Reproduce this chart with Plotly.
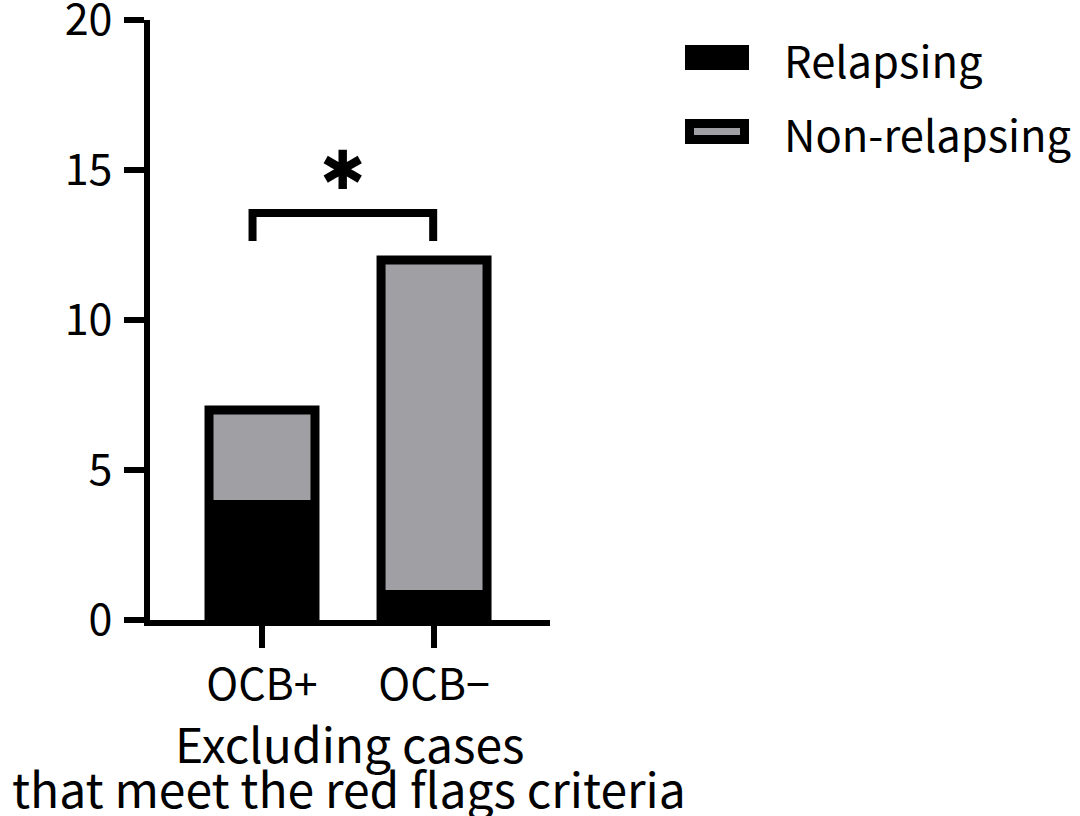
import plotly.graph_objects as go

# ---- data ----
categories = ["OCB+", "OCB−"]
relapsing = [4, 1]
non_relapsing = [3, 11]
series_names = ["Relapsing", "Non-relapsing"]
y_ticks = [0, 5, 10, 15, 20]
x_title_lines = ["Excluding cases", "that meet the red flags criteria"]
sig_label = "✱"

# ---- style ----
FONT = "Noto Sans CJK JP"
GRAY = "#a0a0a4"
W, H = 1080, 816
ML, MR, MT, MB = 150, 530, 20, 196
PW = W - ML - MR
PH = H - MT - MB

totals = [r + n for r, n in zip(relapsing, non_relapsing)]
xpos = list(range(len(categories)))
bar_w = 0.616

fig = go.Figure()
# bottom segment
fig.add_trace(go.Bar(x=xpos, y=relapsing, base=[0] * len(xpos), width=bar_w,
                     marker=dict(color="black", line=dict(width=0)),
                     name=series_names[0], showlegend=False))
# top segment
fig.add_trace(go.Bar(x=xpos, y=non_relapsing, base=relapsing, width=bar_w,
                     marker=dict(color=GRAY, line=dict(width=0)),
                     name=series_names[1], showlegend=False))
# outline of the whole stacked bar
fig.add_trace(go.Bar(x=xpos, y=totals, base=[0] * len(xpos), width=bar_w,
                     marker=dict(color="rgba(0,0,0,0)", line=dict(width=9, color="black")),
                     showlegend=False, hoverinfo="skip"))


def px2paper_x(px):
    return (px - ML) / PW


def px2paper_y(py):
    return 1 - (py - MT) / PH


shapes = []
annotations = []
# significance bracket between the two bars
bl, br = xpos[0] - 0.055, xpos[1] - 0.005
top_y, leg_y = 13.57, 12.63
shapes.append(dict(type="path", xref="x", yref="y",
                   path=f"M {bl},{leg_y} L {bl},{top_y} L {br},{top_y} L {br},{leg_y}",
                   line=dict(color="black", width=8)))
annotations.append(dict(x=(xpos[0] + xpos[1]) / 2 - 0.035, y=15.0, xref="x", yref="y",
                        text=sig_label, showarrow=False, yanchor="middle",
                        font=dict(family="DejaVu Sans", size=54, color="black")))

# manual legend
leg_items = [(series_names[0], "black", 45, 70), (series_names[1], GRAY, 119, 144)]
for name, fill, y0, y1 in leg_items:
    shapes.append(dict(type="rect", xref="paper", yref="paper",
                       x0=px2paper_x(685), x1=px2paper_x(749),
                       y0=px2paper_y(y1), y1=px2paper_y(y0),
                       fillcolor="black", line=dict(width=0)))
    if fill != "black":
        shapes.append(dict(type="rect", xref="paper", yref="paper",
                           x0=px2paper_x(694), x1=px2paper_x(740),
                           y0=px2paper_y(y1 - 9), y1=px2paper_y(y0 + 9),
                           fillcolor=fill, line=dict(width=0)))
    annotations.append(dict(x=px2paper_x(782), y=px2paper_y((y0 + y1) / 2 + 2),
                            xref="paper", yref="paper", text=name, showarrow=False,
                            xanchor="left", yanchor="middle",
                            font=dict(family=FONT, size=43.5, color="black")))

# x-axis title (two lines, tight line spacing as in the reference)
for line_text, mid_y in zip(x_title_lines, [742, 787]):
    annotations.append(dict(x=px2paper_x(349), y=px2paper_y(mid_y), xref="paper", yref="paper",
                            text=line_text, showarrow=False, xanchor="center", yanchor="middle",
                            font=dict(family=FONT, size=48, color="black")))

fig.update_layout(
    width=W, height=H,
    margin=dict(l=ML, r=MR, t=MT, b=MB, autoexpand=False),
    paper_bgcolor="white", plot_bgcolor="white",
    barmode="overlay",
    showlegend=False,
    font=dict(family=FONT, size=43, color="black"),
    shapes=shapes, annotations=annotations,
)
fig.update_xaxes(
    range=[-0.651, 1.674], tickmode="array", tickvals=xpos, ticktext=categories,
    showline=True, linecolor="black", linewidth=6,
    ticks="outside", ticklen=22, tickwidth=6, tickcolor="black",
    showgrid=False, zeroline=False, automargin=False,
    tickfont=dict(family=FONT, size=43),
    ticklabeloverflow="allow",
)
fig.update_yaxes(
    range=[0, 20], tickmode="array", tickvals=y_ticks,
    showline=True, linecolor="black", linewidth=6,
    ticks="outside", ticklen=20, tickwidth=6, tickcolor="black",
    showgrid=False, zeroline=False, automargin=False,
    tickfont=dict(family=FONT, size=43), ticklabelstandoff=3,
    ticklabeloverflow="allow",
)

# remove the default 8px page margin so the 1080x816 figure fills the window
fig.write_html("out.html", config={"displayModeBar": False},
               post_script="document.body.style.margin='0';")
